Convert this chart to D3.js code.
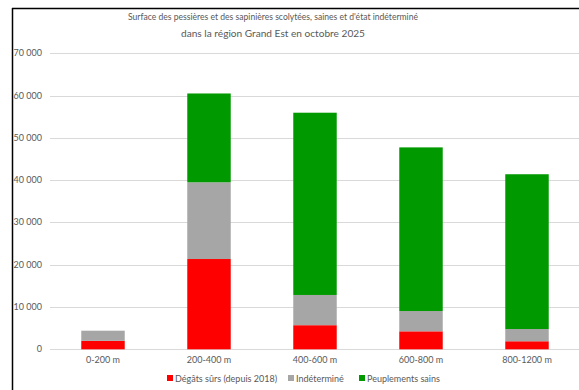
<!DOCTYPE html>
<html><head><meta charset="utf-8">
<script src="https://cdn.jsdelivr.net/npm/d3@7"></script>
<style>body{margin:0;background:#fff;}svg{display:block;font-family:Lato, "Open Sans", sans-serif;}</style>
</head><body><svg id="c" width="579" height="390"></svg>
<script>
const categories = ["0-200 m","200-400 m","400-600 m","600-800 m","800-1200 m"];
const degats = [2000, 21350, 5700, 4250, 1900];
const indetermine = [2400, 18150, 7150, 4800, 2900];
const sains = [0, 21000, 43100, 38700, 36600];
const seriesNames = ["Dégâts sûrs (depuis 2018)", "Indéterminé", "Peuplements sains"];
const colors = ["#FF0000", "#A6A6A6", "#009900"];
const yTicks = [0,10000,20000,30000,40000,50000,60000,70000];
const titleLines = ["Surface des pessières et des sapinières scolytées, saines et d'état indéterminé", "dans la région Grand Est en octobre 2025"];

const svg = d3.select("#c");
// frame border
svg.append("line").attr("x1",12).attr("x2",579).attr("y1",8.5).attr("y2",8.5).attr("stroke","#000").attr("stroke-width",1.5);
svg.append("line").attr("x1",12.5).attr("x2",12.5).attr("y1",8).attr("y2",390).attr("stroke","#000").attr("stroke-width",1.5);

const x = d3.scaleBand().domain(categories).range([50, 580]).paddingInner(0.59).paddingOuter(0.295);
const y = d3.scaleLinear().domain([0,70000]).range([349.3, 53.3]);

svg.selectAll("line.grid").data(yTicks).enter().append("line").attr("class","grid")
  .attr("x1",50).attr("x2",579).attr("y1",d=>Math.round(y(d))+0.5).attr("y2",d=>Math.round(y(d))+0.5)
  .attr("stroke","#D9D9D9").attr("stroke-width",1);

svg.selectAll("text.yl").data(yTicks).enter().append("text").attr("class","yl")
  .attr("x",42).attr("y",d=>y(d)+3).attr("text-anchor","end").attr("font-size",9).attr("fill","#595959")
  .text(d=>d3.format(",")(d).replace(/,/g," "));

const data = categories.map((c,i)=>({cat:c, s0:degats[i], s1:indetermine[i], s2:sains[i]}));
const stack = d3.stack().keys(["s0","s1","s2"])(data);
stack.forEach((layer,k)=>{
  svg.append("g").selectAll("rect").data(layer).enter().append("rect")
    .attr("x",d=>x(d.data.cat)).attr("width",x.bandwidth())
    .attr("y",d=>y(d[1])).attr("height",d=>Math.max(0,y(d[0])-y(d[1])))
    .attr("fill",colors[k]);
});

svg.selectAll("text.xl").data(categories).enter().append("text").attr("class","xl")
  .attr("x",d=>x(d)+x.bandwidth()/2).attr("y",363).attr("text-anchor","middle")
  .attr("font-size",9).attr("fill","#595959").text(d=>d);

const titleWidths = [290, 184];
svg.selectAll("text.title").data(titleLines).enter().append("text").attr("class","title")
  .attr("x",273).attr("y",(d,i)=>19.5+i*17).attr("text-anchor","middle").attr("font-size",10.2).attr("fill","#595959")
  .attr("textLength",(d,i)=>titleWidths[i]).attr("lengthAdjust","spacingAndGlyphs").text(d=>d);

// legend
const legX = [167, 288, 359];
seriesNames.forEach((n,i)=>{
  svg.append("rect").attr("x",legX[i]).attr("y",375).attr("width",6).attr("height",6).attr("fill",colors[i]);
  svg.append("text").attr("x",legX[i]+8).attr("y",382).attr("font-size",9).attr("fill","#595959").text(n);
});
</script></body></html>
